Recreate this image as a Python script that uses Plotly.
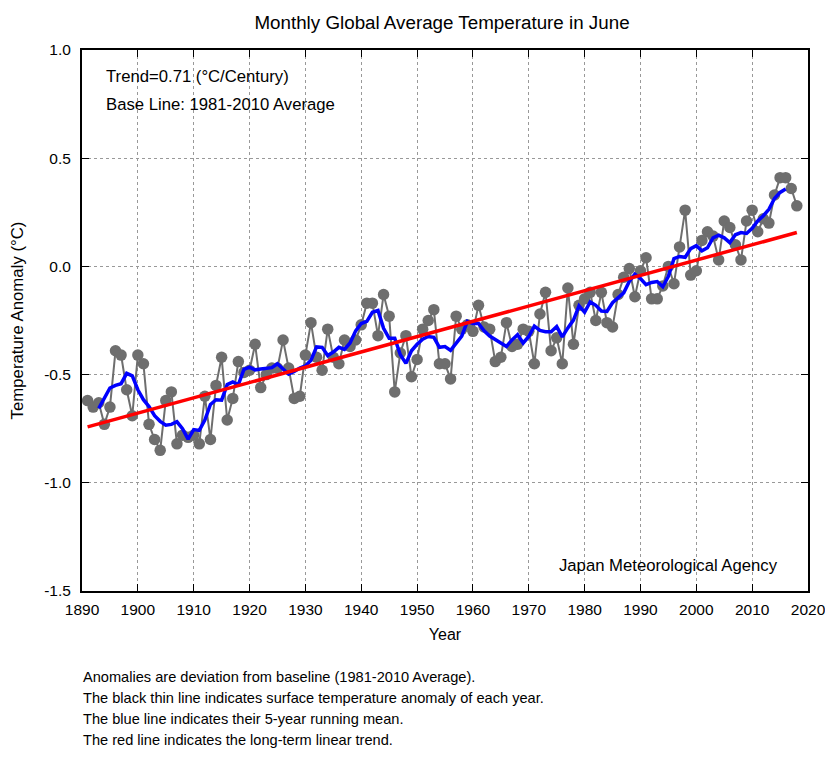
import numpy as np
import pandas as pd
import plotly.graph_objects as go

# June anomalies (deg C, vs 1981-2010)
years = list(range(1891, 2019))
anomaly = [
    -0.62, -0.65, -0.63, -0.73, -0.65, -0.39, -0.41, -0.57, -0.69, -0.41,  # 1891-1900
    -0.45, -0.73, -0.80, -0.85, -0.62, -0.58, -0.82, -0.78, -0.79, -0.78,  # 1901-1910
    -0.82, -0.60, -0.80, -0.55, -0.42, -0.71, -0.61, -0.44, -0.49, -0.48,  # 1911-1920
    -0.36, -0.56, -0.50, -0.47, -0.47, -0.34, -0.47, -0.61, -0.60, -0.41,  # 1921-1930
    -0.26, -0.42, -0.48, -0.29, -0.42, -0.45, -0.34, -0.37, -0.34, -0.27,  # 1931-1940
    -0.17, -0.17, -0.32, -0.13, -0.23, -0.58, -0.40, -0.32, -0.51, -0.43,  # 1941-1950
    -0.29, -0.25, -0.20, -0.45, -0.45, -0.52, -0.23, -0.29, -0.27, -0.30,  # 1951-1960
    -0.18, -0.28, -0.29, -0.44, -0.42, -0.26, -0.37, -0.36, -0.29, -0.30,  # 1961-1970
    -0.45, -0.22, -0.12, -0.39, -0.33, -0.45, -0.10, -0.36, -0.18, -0.15,  # 1971-1980
    -0.12, -0.25, -0.12, -0.26, -0.28, -0.13, -0.05, -0.01, -0.14, -0.02,  # 1981-1990
    0.04, -0.15, -0.15, -0.09, 0.00, -0.08, 0.09, 0.26, -0.04, -0.02,      # 1991-2000
    0.12, 0.16, 0.14, 0.03, 0.21, 0.18, 0.10, 0.03, 0.21, 0.26,            # 2001-2010
    0.16, 0.22, 0.20, 0.33, 0.41, 0.41, 0.36, 0.28,                        # 2011-2018
]
x_ticks = list(range(1890, 2021, 10))
y_ticks = [1.0, 0.5, 0.0, -0.5, -1.0, -1.5]
y_ticktext = ["1.0", "0.5", "0.0", "-0.5", "-1.0", "-1.5"]

notes = [
    "Anomalies are deviation from baseline (1981-2010 Average).",
    "The black thin line indicates surface temperature anomaly of each year.",
    "The blue line indicates their 5-year running mean.",
    "The red line indicates the long-term linear trend.",
]

df = pd.DataFrame({"year": years, "anom": anomaly})
df["ma5"] = df["anom"].rolling(5, center=True).mean()

# linear trend
slope, icpt = np.polyfit(df["year"], df["anom"], 1)
trend_x = [years[0], years[-1]]
trend_y = [slope * v + icpt for v in trend_x]

# page has an 8px body margin, so the figure is a bit smaller than the window
OFF = 8
W, H = 833 - OFF, 779 - OFF
L, R, T, B = 82, 808, 50, 591  # plot box in page pixels


def px(x):
    return (x - L) / (R - L)


def py(y):
    return (B - y) / (B - T)


fig = go.Figure()

# yearly values
fig.add_trace(go.Scatter(
    x=df["year"], y=df["anom"], mode="lines+markers",
    line=dict(color="#6e6e6e", width=2),
    marker=dict(color="#6e6e6e", size=11.5),
    showlegend=False,
))

# 5-year running mean
fig.add_trace(go.Scatter(
    x=df["year"], y=df["ma5"], mode="lines",
    line=dict(color="#0000ff", width=3.5),
    showlegend=False,
))

# trend
fig.add_trace(go.Scatter(
    x=trend_x, y=trend_y, mode="lines",
    line=dict(color="#ff0000", width=3.5),
    showlegend=False,
))

font = "Liberation Sans, Arial, sans-serif"

annots = [
    dict(x=px(104), y=py(76), text="Trend=0.71 (°C/Century)", xanchor="left"),
    dict(x=px(104), y=py(104), text="Base Line: 1981-2010 Average", xanchor="left"),
    dict(x=px(780), y=py(565), text="Japan Meteorological Agency", xanchor="right"),
]
for a in annots:
    a.update(xref="paper", yref="paper", yanchor="middle", showarrow=False,
             font=dict(size=16.7, color="black", family=font))

for i, t in enumerate(notes):
    annots.append(dict(
        x=px(81), y=py(677 + i * 20.9), xref="paper", yref="paper",
        text=t, xanchor="left", yanchor="middle", showarrow=False,
        font=dict(size=14.6, color="black", family=font),
    ))

fig.update_layout(
    width=W, height=H,
    margin=dict(l=L - OFF, r=833 - R, t=T - OFF, b=779 - B),
    plot_bgcolor="white", paper_bgcolor="white",
    font=dict(family=font, size=15.5, color="black"),
    title=dict(text="Monthly Global Average Temperature in June",
               x=(442 - OFF) / W, xanchor="center",
               y=1 - (22 - OFF) / H, yanchor="middle",
               font=dict(size=18.8, color="black")),
    annotations=annots,
)

fig.update_xaxes(
    range=[1890, 2020], tickvals=x_ticks, automargin=False,
    showgrid=True, gridcolor="#999999", griddash="dot", gridwidth=1,
    showline=True, linecolor="black", linewidth=2, mirror="allticks",
    ticks="inside", ticklen=7, tickcolor="black",
    ticklabelstandoff=3,
    zeroline=False,
    title=dict(text="Year", standoff=12, font=dict(size=16)),
)
fig.update_yaxes(
    range=[-1.5, 1.0], tickvals=y_ticks, ticktext=y_ticktext, automargin=False,
    showgrid=True, gridcolor="#999999", griddash="dot", gridwidth=1,
    showline=True, linecolor="black", linewidth=2, mirror="allticks",
    ticks="inside", ticklen=7, tickcolor="black",
    ticklabelstandoff=6,
    zeroline=False,
    title=dict(text="Temperature Anomaly (°C)", standoff=22, font=dict(size=16.8)),
)

fig.write_html("out.html")
